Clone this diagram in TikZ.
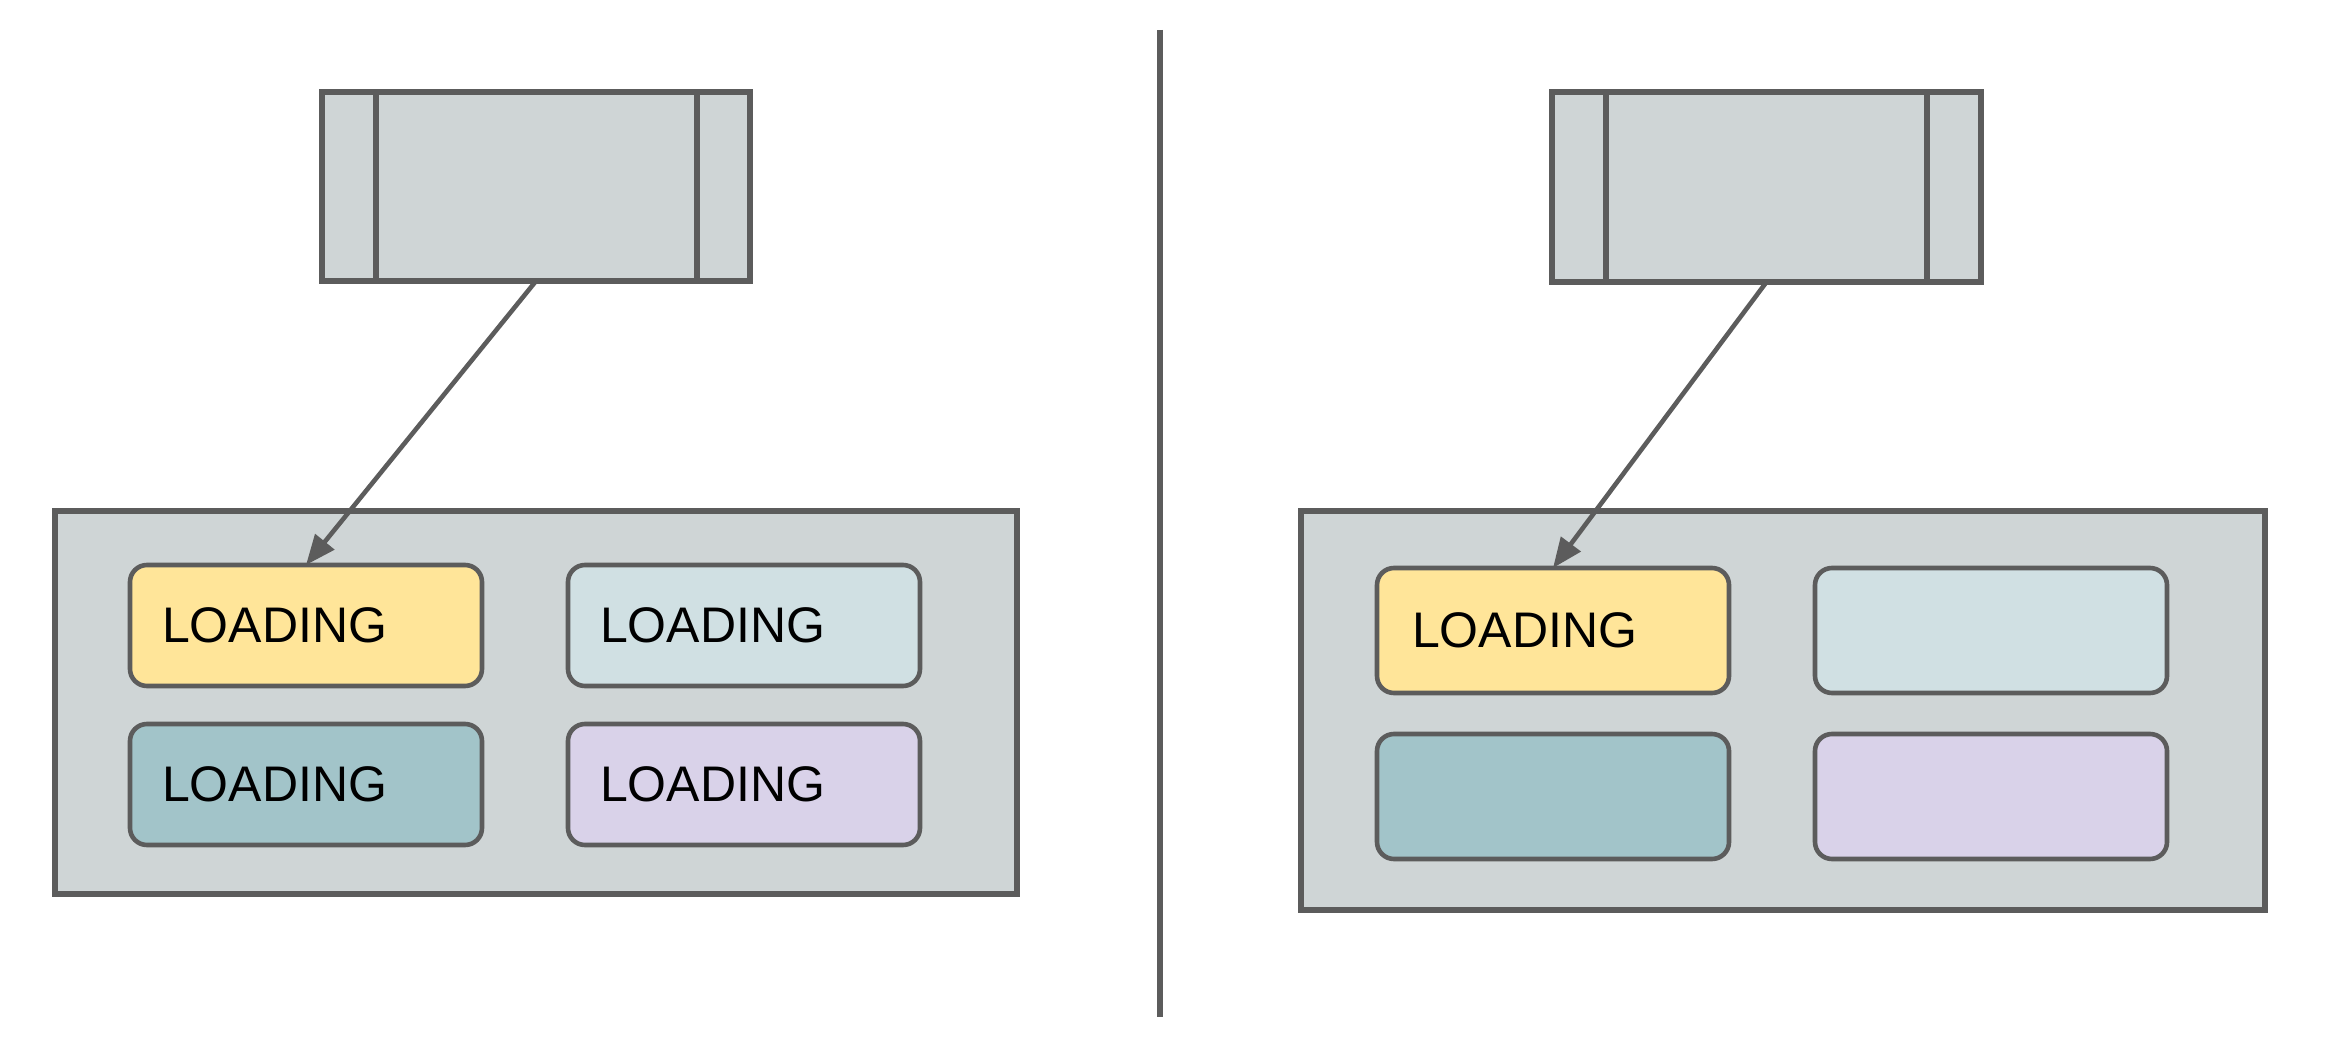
\documentclass[tikz,border=0pt]{standalone}
\usepackage{fontspec}
\setmainfont{Liberation Sans}
\usetikzlibrary{arrows.meta}
\definecolor{edge}{HTML}{5C5C5C}
\definecolor{panel}{HTML}{CFD5D6}
\definecolor{ylw}{HTML}{FFE599}
\definecolor{lcyan}{HTML}{D0E0E3}
\definecolor{tealc}{HTML}{A2C4C9}
\definecolor{lpurple}{HTML}{D9D2E9}
\begin{document}
\begin{tikzpicture}[x=0.5pt,y=-0.5pt,
  every node/.style={inner sep=0pt, outer sep=0pt},
  sourcebox/.style={draw=edge, fill=panel, line width=2.6pt, minimum width=214pt, minimum height=94.5pt},
  panelbox/.style={draw=edge, fill=panel, line width=2.6pt},
  cell/.style={draw=edge, line width=2.3pt, rounded corners=8.5pt, minimum width=176pt, minimum height=60.5pt, inner xsep=16pt, text width=144pt, align=left, font=\fontsize{25}{28}\selectfont},
  cellr/.style={cell, minimum height=62.5pt, inner xsep=17pt, text width=141pt},
  link/.style={draw=edge, line width=2.3pt, -{Triangle[length=15pt,width=12pt]}},
  divider/.style={draw=edge, line width=2.6pt},
  bar/.style={draw=edge, line width=2.6pt}]
\path[use as bounding box, fill=white] (0,0) rectangle (2330,1038);

% divider
\coordinate (dtop) at (1160,30);
\coordinate (dbot) at (1160,1017);
\draw[divider] (dtop) -- (dbot);

% left panel
\node[panelbox, minimum width=481pt, minimum height=191.5pt] (bigL) at (536,702.5) {};
\node[cell, fill=ylw] (yL) at (306,625.5) {LOADING};
\node[cell, fill=lcyan] (cL) at (744,625.5) {LOADING};
\node[cell, fill=tealc] (tL) at (306,784.5) {LOADING};
\node[cell, fill=lpurple] (pL) at (744,784.5) {LOADING};
\node[sourcebox] (topL) at (536,186.5) {};
\draw[bar] ([xshift=27pt]topL.north west) -- ([xshift=27pt]topL.south west);
\draw[bar] ([xshift=-26.5pt]topL.north east) -- ([xshift=-26.5pt]topL.south east);
\draw[link] (topL.south) -- (yL.north);

% right panel
\node[panelbox, minimum width=482pt, minimum height=199.5pt] (bigR) at (1783,710.5) {};
\node[cellr, fill=ylw] (yR) at (1553,630.5) {LOADING};
\node[cellr, fill=lcyan] (cR) at (1991,630.5) {};
\node[cellr, fill=tealc] (tR) at (1553,796.5) {};
\node[cellr, fill=lpurple] (pR) at (1991,796.5) {};
\node[sourcebox, minimum width=214.5pt, minimum height=95pt] (topR) at (1766.5,187) {};
\draw[bar] ([xshift=27pt]topR.north west) -- ([xshift=27pt]topR.south west);
\draw[bar] ([xshift=-27pt]topR.north east) -- ([xshift=-27pt]topR.south east);
\draw[link] (topR.south) -- (yR.north);
\end{tikzpicture}
\end{document}
